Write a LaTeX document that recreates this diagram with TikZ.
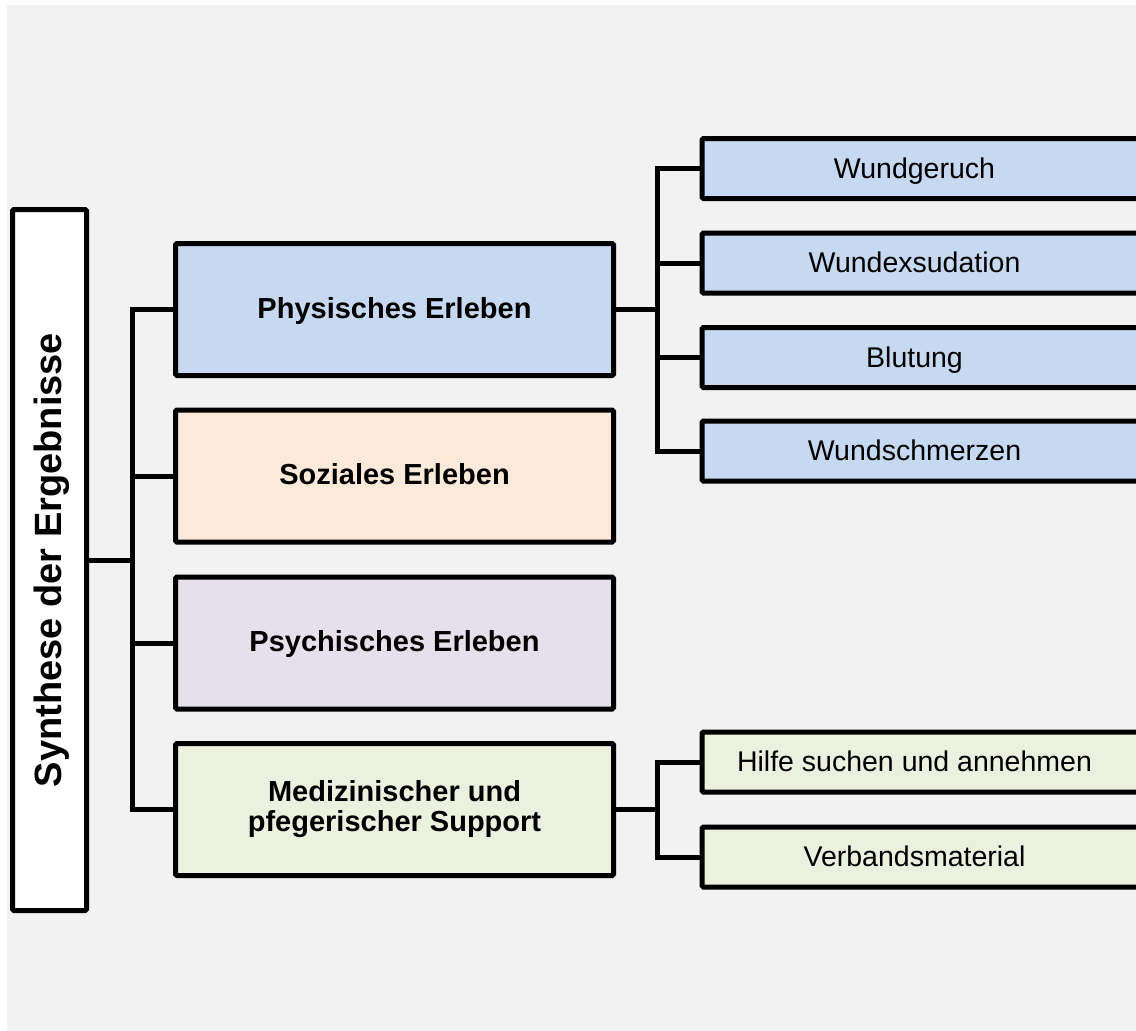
\documentclass[tikz,border=0pt]{standalone}
\usepackage{fontspec}
\setmainfont{Liberation Sans}
\definecolor{bgc}{HTML}{F2F2F2}
\definecolor{physc}{HTML}{C6D9F1}
\definecolor{sozc}{HTML}{FDE9D9}
\definecolor{psyc}{HTML}{E5E0EC}
\definecolor{medc}{HTML}{EBF1DE}
\begin{document}
\begin{tikzpicture}[x=1pt,y=-1pt,
  box/.style={draw=black, line width=5pt, rounded corners=1.5pt, inner sep=0pt, align=center},
  cat/.style={box, minimum width=438pt, minimum height=132pt, font=\fontsize{29}{30}\selectfont\bfseries},
  catone/.style={text height=17pt, text depth=0pt},
  sub/.style={box, fill=#1, anchor=west, minimum width=460pt, minimum height=60pt, font=\fontsize{28.5}{30}\selectfont, text height=19pt, text depth=0pt},
  conn/.style={line width=5pt, line join=miter}]
\clip (0,0) rectangle (1136,1031);
\fill[white] (0,0) rectangle (1136,1031);
\fill[bgc] (7,5) rectangle (1136,1031);

\node[box, fill=white, rotate=90, minimum width=701pt, minimum height=74pt,
      font=\fontsize{38}{40}\selectfont\bfseries, text height=24pt, text depth=0pt]
      (main) at (49.5,560) {Synthese der Ergebnisse};

\node[cat, catone, fill=physc] (phys) at (394.5,309.5) {Physisches Erleben};
\node[cat, catone, fill=sozc] (soz) at (394.5,476) {Soziales Erleben};
\node[cat, catone, fill=psyc] (psy) at (394.5,643) {Psychisches Erleben};
\node[cat, fill=medc] (med) at (394.5,809.5) {Medizinischer und\\pfegerischer Support};

\node[sub=physc] (w1) at (699.5,168.5) {Wundgeruch\hspace*{35pt}};
\node[sub=physc] (w2) at (699.5,263) {Wundexsudation\hspace*{35pt}};
\node[sub=physc] (w3) at (699.5,357.5) {Blutung\hspace*{35pt}};
\node[sub=physc] (w4) at (699.5,451) {Wundschmerzen\hspace*{35pt}};
\node[sub=medc] (h1) at (699.5,762) {Hilfe suchen und annehmen\hspace*{35pt}};
\node[sub=medc] (h2) at (699.5,857) {Verbandsmaterial\hspace*{35pt}};

\coordinate (t1) at (132.5,560);
\draw[conn] (main.south) -- (t1);
\draw[conn] (phys.west) -| (t1) |- (med.west);
\draw[conn] (soz.west) -- (soz.west -| t1);
\draw[conn] (psy.west) -- (psy.west -| t1);

\coordinate (t2) at (657,309.5);
\draw[conn] (phys.east) -- (t2);
\draw[conn] (w1.west) -| (t2) |- (w4.west);
\draw[conn] (w2.west) -- (w2.west -| t2);
\draw[conn] (w3.west) -- (w3.west -| t2);

\coordinate (t3) at (657,809.5);
\draw[conn] (med.east) -- (t3);
\draw[conn] (h1.west) -| (t3) |- (h2.west);
\end{tikzpicture}
\end{document}
